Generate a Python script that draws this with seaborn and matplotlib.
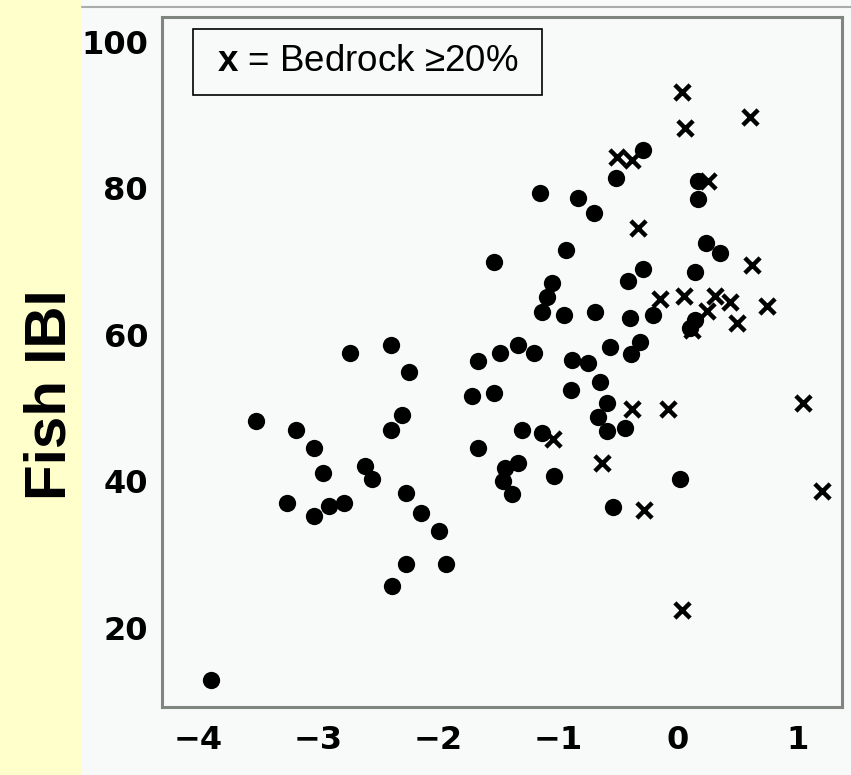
import matplotlib
matplotlib.use("Agg")
import matplotlib.pyplot as plt
import seaborn as sns
import pandas as pd
from matplotlib.patches import Rectangle
from matplotlib.lines import Line2D

# ---- data ----
dot_x = [-3.89, -3.52, -3.26, -3.18, -3.03, -2.96, -3.03, -2.91, -2.78, -2.73,
         -2.61, -2.55, -2.39, -2.24, -2.39, -2.30, -2.27, -2.14, -2.38, -2.27,
         -1.99, -1.93, -1.67, -1.48, -1.33, -1.20, -1.72, -1.53, -1.67, -1.33,
         -1.44, -1.46, -1.38, -1.30, -1.13, -1.03, -0.88, -0.75, -0.57, -0.32,
         -0.39, -0.89, -0.65, -0.59, -0.67, -0.59, -0.44, -0.54, 0.02, -1.53,
         -1.15, -0.93, -1.05, -1.09, -1.13, -0.95, -0.69, -0.83, -0.70, -0.52,
         -0.29, -0.42, -0.29, -0.40, -0.21, 0.17, 0.17, 0.23, 0.35, 0.14,
         0.14, 0.10]
dot_y = [12.9, 48.3, 37.1, 47.0, 44.6, 41.2, 35.3, 36.7, 37.1, 57.5,
         42.1, 40.3, 58.6, 54.9, 47.0, 49.1, 38.4, 35.7, 25.7, 28.7,
         33.2, 28.7, 56.5, 57.5, 58.6, 57.5, 51.7, 52.1, 44.6, 42.5,
         41.8, 40.1, 38.3, 47.0, 46.6, 40.8, 56.6, 56.2, 58.4, 59.0,
         57.4, 52.5, 53.6, 50.7, 48.8, 46.9, 47.3, 36.5, 40.3, 70.0,
         79.4, 71.6, 67.1, 65.2, 63.1, 62.7, 63.1, 78.7, 76.7, 81.4,
         85.3, 67.4, 69.0, 62.3, 62.7, 81.0, 78.6, 72.6, 71.2, 68.6,
         62.0, 61.0]

cross_x = [0.03, 0.60, 0.06, -0.51, -0.38, 0.25, -0.33, 0.62, -0.15, 0.05,
           0.31, 0.43, 0.24, 0.74, 0.49, 0.12, -0.38, -0.08, 1.04, -1.04,
           -0.63, 1.20, -0.28, 0.03]
cross_y = [93.2, 89.8, 88.3, 84.3, 83.9, 81.0, 74.6, 69.6, 64.9, 65.3,
           65.3, 64.5, 63.3, 64.0, 61.6, 60.7, 49.9, 49.9, 50.7, 45.8,
           42.5, 38.7, 36.1, 22.5]

x_ticks = [-4, -3, -2, -1, 0, 1]
y_ticks = [20, 40, 60, 80, 100]
y_label = "Fish IBI"
legend_text = r"$\mathbf{x}$ = Bedrock ≥20%"

dots = pd.DataFrame({"x": dot_x, "y": dot_y})
crosses = pd.DataFrame({"x": cross_x, "y": cross_y})

# ---- style ----
sns.set_theme(style="white")
plt.rcParams['font.family'] = ['DejaVu Sans']
plt.rcParams['mathtext.fontset'] = 'custom'
plt.rcParams['mathtext.bf'] = 'Liberation Sans:bold'
plt.rcParams['mathtext.rm'] = 'Liberation Sans'

W, H = 851, 775
bg = '#F7FAF9'
yellow = '#FFFFCC'
spine_c = '#7F8680'

fig = plt.figure(figsize=(W / 100, H / 100), dpi=100)
fig.patch.set_facecolor(bg)
fig.add_artist(Rectangle((0, 0), 82 / W, 1, transform=fig.transFigure,
                         facecolor=yellow, edgecolor='none', zorder=0))
fig.add_artist(Line2D([82 / W, 1], [1 - 7 / H, 1 - 7 / H], transform=fig.transFigure,
                      color='#A8ADA9', linewidth=1.5))

ax = fig.add_axes([162 / W, 1 - 707 / H, 680 / W, 690 / H])
ax.set_facecolor(bg)

sns.scatterplot(data=dots, x="x", y="y", ax=ax, marker='o', s=155,
                color='black', edgecolor='black', linewidth=0, zorder=3)
sns.scatterplot(data=crosses, x="x", y="y", ax=ax, marker='x', s=120,
                color='black', linewidth=3.2, zorder=3)

ax.set_xlim(-4.3, 1.367)
ax.set_ylim(9.2, 103.4)
ax.set_xticks(x_ticks)
ax.set_yticks(y_ticks)
ax.set_xticklabels([str(v).replace('-', '\u2212') for v in x_ticks])
ax.set_yticklabels([str(v) for v in y_ticks])
ax.set_xlabel("")
ax.set_ylabel("")
ax.tick_params(axis='both', direction='out', length=7, width=2, color=spine_c,
               labelcolor='black', labelsize=23, pad=3)
ax.tick_params(axis='x', pad=6)
for lab in ax.get_xticklabels() + ax.get_yticklabels():
    lab.set_fontweight('bold')

for s in ax.spines.values():
    s.set_color(spine_c)
    s.set_linewidth(2.2)
    s.set_visible(True)

# legend-like note box
x0 = (193 - 162) / 680
x1 = (542 - 162) / 680
yt = 1 - (29 - 17) / 690
yb = 1 - (95 - 17) / 690
ax.add_patch(Rectangle((x0, yb), x1 - x0, yt - yb, transform=ax.transAxes,
                       facecolor=bg, edgecolor='black', linewidth=1.2, zorder=4))
ax.text((x0 + x1) / 2, (yt + yb) / 2, legend_text, transform=ax.transAxes,
        ha='center', va='center', fontsize=26.5, color='black',
        family='Liberation Sans', zorder=5)

fig.text(51 / W, 1 - 395 / H, y_label, rotation=90, ha='center', va='center',
         fontsize=42, fontweight='bold', family='Liberation Sans', color='black')

fig.savefig("out.png", dpi=100, facecolor=fig.get_facecolor())
